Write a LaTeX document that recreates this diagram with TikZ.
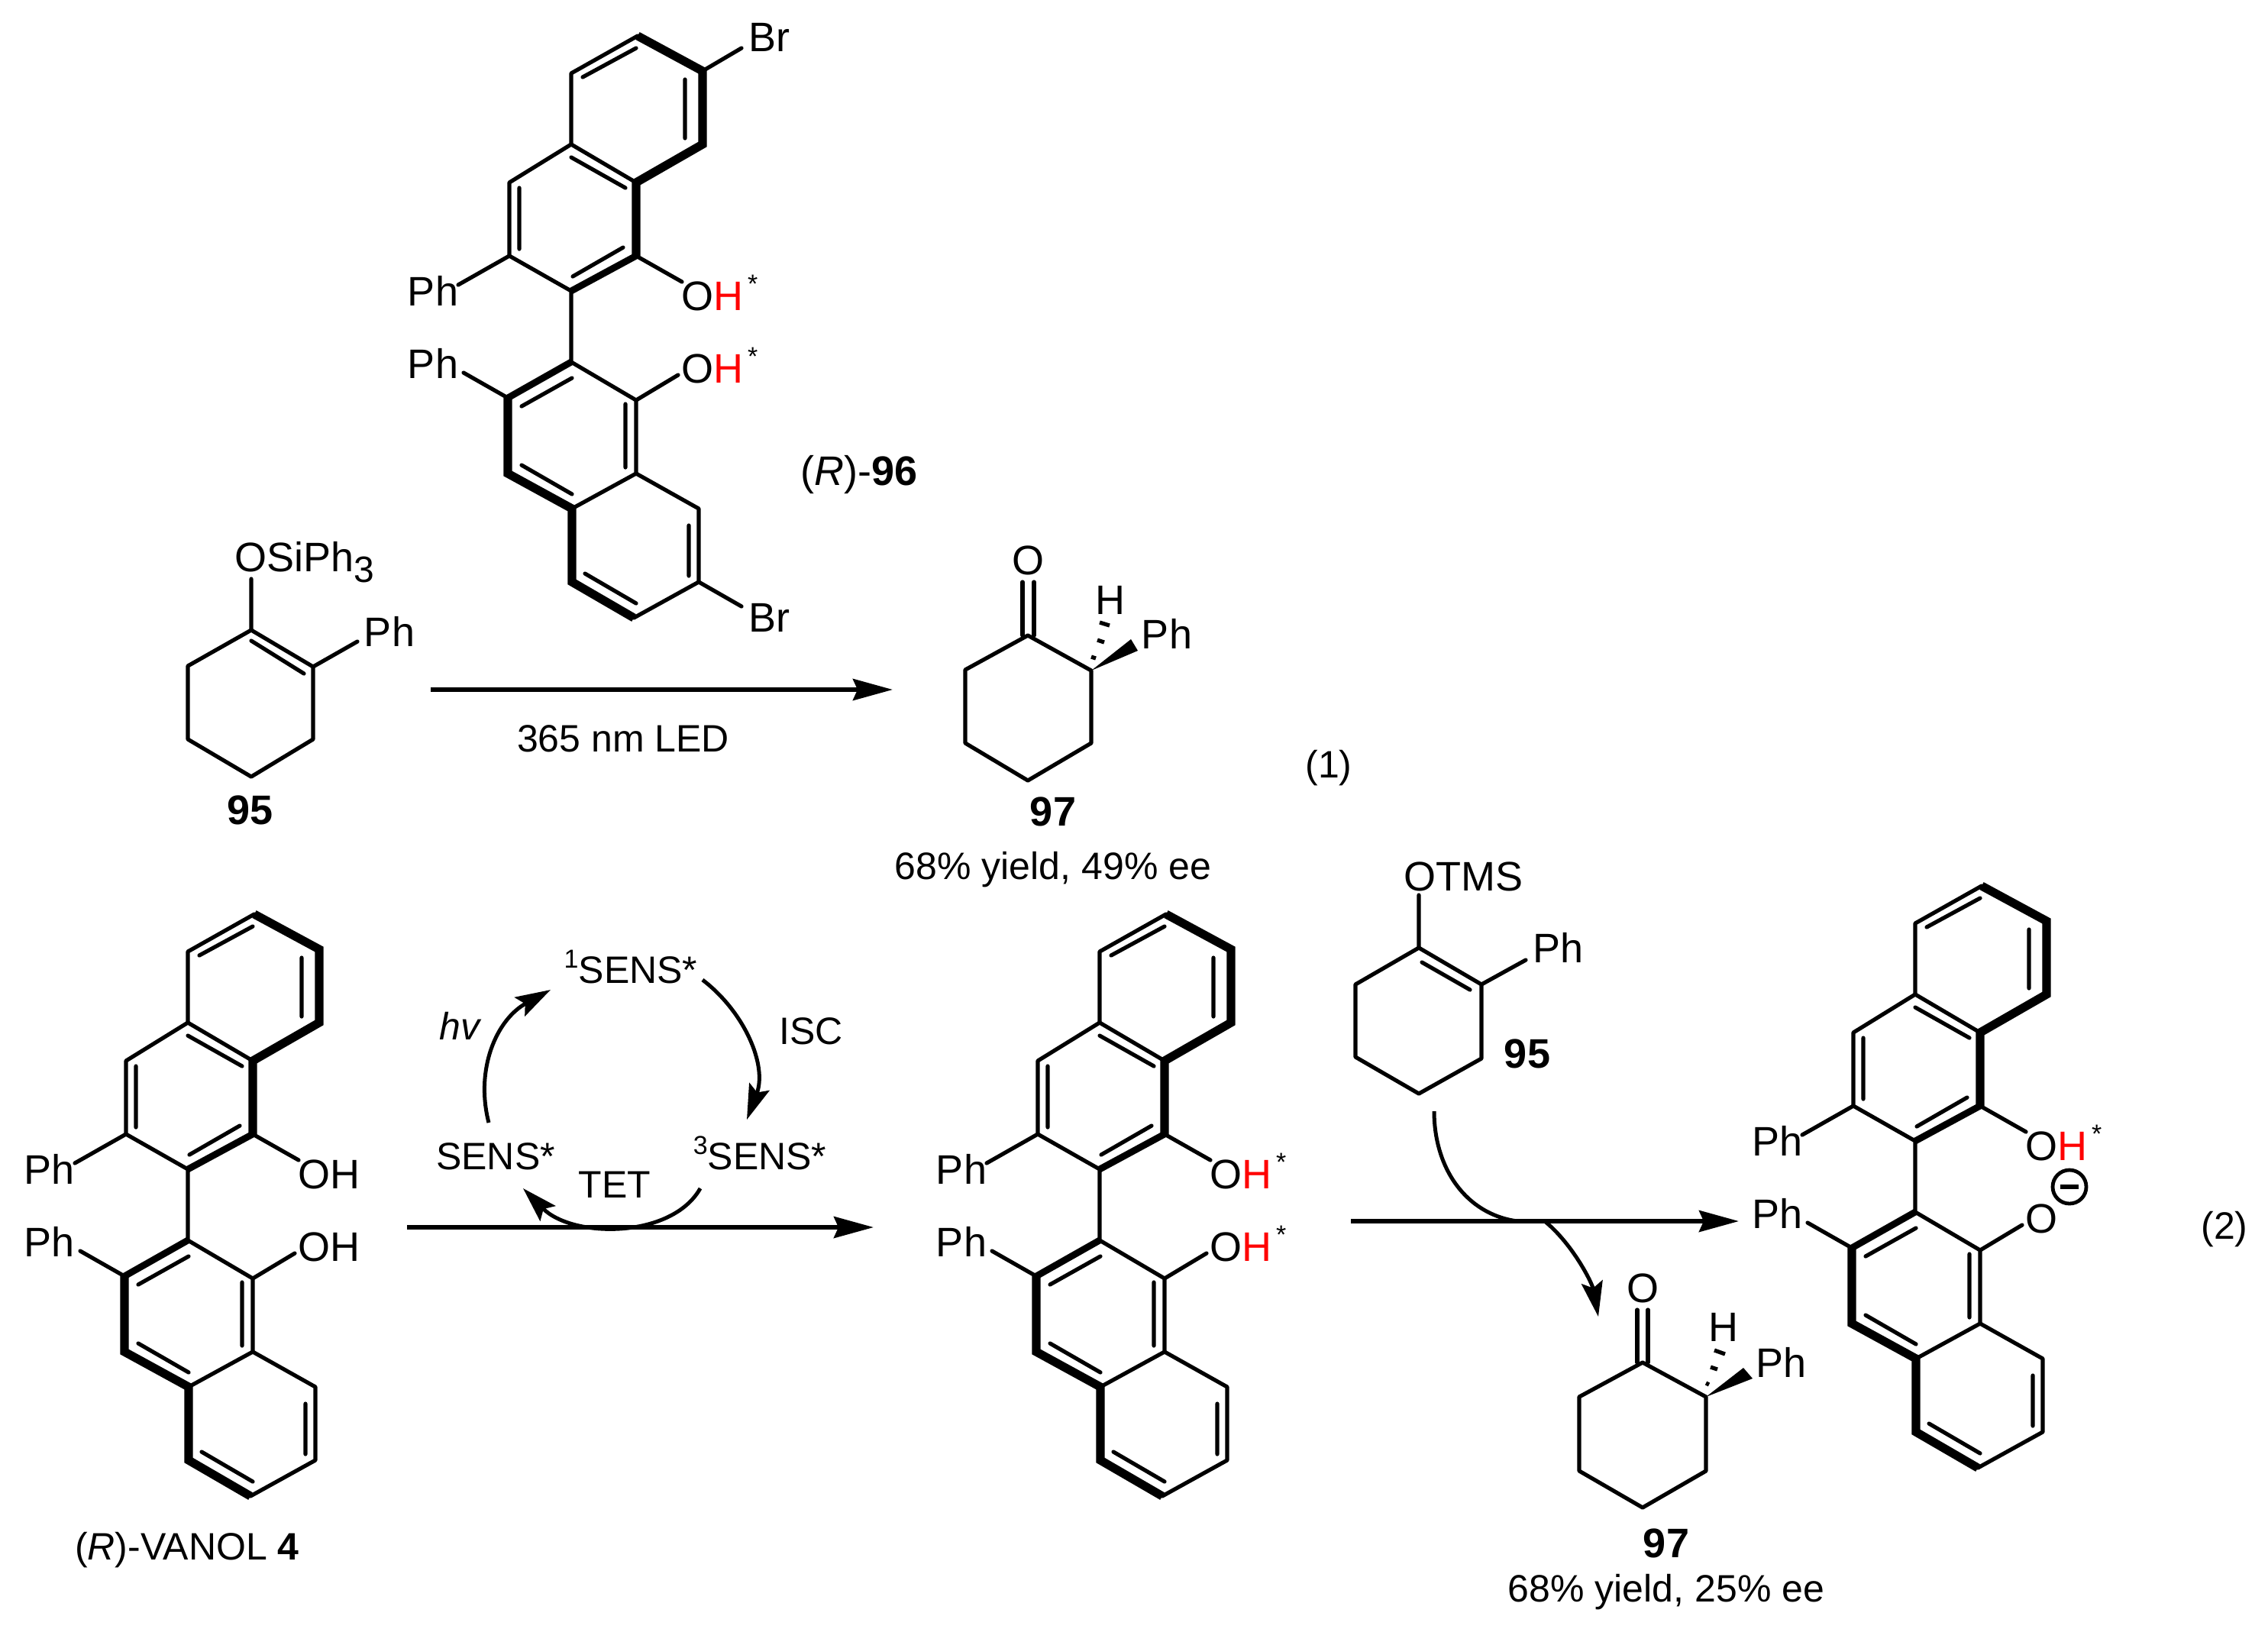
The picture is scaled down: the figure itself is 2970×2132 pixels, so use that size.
\documentclass[tikz,border=0pt]{standalone}
\usepackage{fontspec}
\setmainfont{Liberation Sans}
\usetikzlibrary{arrows.meta}
\definecolor{hred}{RGB}{255,0,0}
\newcommand{\FS}{\fontsize{27}{32}\selectfont}
\newcommand{\FL}{\fontsize{25}{30}\selectfont}
\newcommand{\OHs}{O\textcolor{hred}{H}\kern3pt\raisebox{11.5pt}{\fontsize{17}{17}\selectfont *}}
\newcommand{\sups}[1]{\raisebox{10pt}{\fontsize{17}{17}\selectfont #1}}
\tikzset{
  x=0.5pt,y=-0.5pt,
  bond/.style={line width=2.6pt,line cap=round,line join=round},
  bold bond/.style={line width=5.6pt,line cap=butt,line join=miter},
  mid bond/.style={line width=4.4pt,line cap=butt},
  txt/.style={inner sep=0pt,outer sep=0pt,font=\FS,text=black},
  basetxt/.style={txt,anchor=base},
  labtxt/.style={inner sep=0pt,outer sep=0pt,font=\FL,text=black,anchor=base},
  rxn/.style={line width=2.8pt,-{Stealth[length=26pt,width=14pt,inset=3pt]}},
  curve/.style={line width=2.5pt,-{Stealth[length=23pt,width=14pt,inset=4pt]}},
  plain curve/.style={line width=2.5pt},
}
\newcommand{\binaph}[5]{%
\begin{scope}[shift={(#2,#3)},name prefix=#1-]
  \coordinate (a1) at (835,47); \coordinate (a2) at (920,93); \coordinate (a3) at (920,189);
  \coordinate (a4) at (833,239); \coordinate (a5) at (748,189); \coordinate (a6) at (748,96);
  \coordinate (b1) at (833,335); \coordinate (b2) at (748,381); \coordinate (b3) at (667,335); \coordinate (b4) at (667,239);
  \coordinate (c1) at (748,474); \coordinate (c2) at (833,524); \coordinate (c3) at (833,620);
  \coordinate (c4) at (749,666); \coordinate (c5) at (665,620); \coordinate (c6) at (665,521);
  \coordinate (d1) at (915,666); \coordinate (d2) at (915,762); \coordinate (d3) at (830,809); \coordinate (d4) at (749,762);
  \coordinate (p1) at (600,373); \coordinate (p2) at (607,488); \coordinate (o1) at (893,369); \coordinate (o2) at (888,491);
  \draw[bond] (a1) -- (a6) -- (a5) -- (b4) -- (b3) -- (b2) -- (c1) -- (c2) -- (c3) -- (c4);
  \draw[bond] (a5) -- (a4);
  \draw[bond] (c3) -- (d1) -- (d2) -- (d3);
  \draw[bold bond] (a1) -- (a2) -- (a3) -- (a4) -- (b1);
  \draw[mid bond] (b1) -- (b2);
  \draw[mid bond] (c1) -- (c6);
  \draw[bold bond] (c6) -- (c5) -- (c4) -- (d4) -- (d3);
  \draw[bond] (833,63) -- (763,101) (897,104) -- (897,181) (748,206) -- (819,246)
              (680,246) -- (680,326) (750,362) -- (816,324)
              (683,532) -- (749,495) (819,529) -- (819,612) (683,609) -- (749,647)
              (902,688) -- (902,754) (766,751) -- (833,790);
  \draw[bond] (b3) -- (p1) (c6) -- (p2) (b1) -- (o1) (c2) -- (o2);
  \node[txt] (ph1) at (567,381) {Ph};
  \node[txt] (ph2) at (567,476) {Ph};
  \node[txt,anchor=base west] (oh1) at (892,406) {#4};
  \node[txt,anchor=base west] (oh2) at (892,501) {#5};
\end{scope}}
\begin{document}
\begin{tikzpicture}
\useasboundingbox (0,0) rectangle (2970,2132);
\fill[white] (0,0) rectangle (2970,2132);

% (R)-96
\binaph{r96}{0}{0}{\OHs}{\OHs}
\draw[bond] (r96-a2) -- (971,63) (r96-d2) -- (971,794);
\node[txt] (br1) at (1007,49) {Br};
\node[txt] (br2) at (1007,809) {Br};
\node[basetxt] (l96) at (1125,635) {(\textit{R})-\textbf{96}};

% 95 top
\coordinate (e1) at (329,825); \coordinate (e2) at (410,873); \coordinate (e3) at (410,968);
\coordinate (e4) at (329,1017); \coordinate (e5) at (246,968); \coordinate (e6) at (246,872);
\draw[bond] (e1) -- (e2) -- (e3) -- (e4) -- (e5) -- (e6) -- cycle;
\draw[bond] (329,839) -- (398,882) (e1) -- (329,758) (e2) -- (468,840);
\node[txt,anchor=base west] (osi) at (307,748) {OSiPh\raisebox{-7pt}{\fontsize{24}{24}\selectfont 3}};
\node[txt] (eph) at (510,827) {Ph};
\node[txt] (l95a) at (328,1061) {\textbf{95}};

% arrow 1
\coordinate (ar1a) at (564,903); \coordinate (ar1b) at (1169,903);
\draw[rxn] (ar1a) -- (ar1b);
\node[labtxt] (led) at (816,984) {365 nm LED};

% 97 top
\coordinate (f1) at (1346,832); \coordinate (f2) at (1429,878); \coordinate (f3) at (1429,973);
\coordinate (f4) at (1346,1022); \coordinate (f5) at (1264,973); \coordinate (f6) at (1264,877);
\draw[bond] (f1) -- (f2) -- (f3) -- (f4) -- (f5) -- (f6) -- cycle;
\draw[bond] (1339,762) -- (1339,832) (1354,762) -- (1354,832);
\node[txt] (fo) at (1346,734) {O};
\node[txt] (fh) at (1454,786) {H};
\node[txt] (fph) at (1528,830) {Ph};
\fill (f2) -- (1481,837) -- (1490,852) -- cycle;
\draw[line width=2.6pt] (1429,860) -- (1435,862) (1437,838) -- (1446,841) (1440,815) -- (1453,819);
\node[txt] (l97a) at (1379,1063) {\textbf{97}};
\node[labtxt] (y1) at (1379,1151) {68\% yield, 49\% ee};
\node[labtxt] (eq1) at (1740,1018) {(1)};

% VANOL
\binaph{van}{-502}{1150}{OH}{OH}
\node[labtxt] (lvan) at (245,2042) {(\textit{R})-VANOL \textbf{4}};

% cycle
\node[labtxt] (s1) at (826,1287) {\sups{1}SENS*};
\node[labtxt] (s3) at (995,1531) {\sups{3}SENS*};
\node[labtxt] (s0) at (649,1531) {SENS*};
\node[labtxt] (hv) at (603,1361) {\textit{hv}};
\node[labtxt] (isc) at (1062,1367) {ISC};
\node[labtxt] (tet) at (805,1568) {TET};
\coordinate (h1) at (640,1470); \coordinate (h2) at (721,1296);
\coordinate (i1) at (920,1283); \coordinate (i2) at (978,1466);
\coordinate (t1) at (917,1556); \coordinate (t2) at (685,1556);
\draw[curve] (h1) .. controls (622,1400) and (650,1335) .. (h2);
\draw[curve] (i1) .. controls (975,1325) and (1005,1395) .. (i2);
\draw[curve] (t1) .. controls (880,1622) and (750,1622) .. (t2);

% arrow 2
\coordinate (ar2a) at (533,1607); \coordinate (ar2b) at (1144,1607);
\draw[rxn] (ar2a) -- (ar2b);

% middle
\binaph{mid}{692}{1150}{\OHs}{\OHs}

% 95 lower
\coordinate (g1) at (1858,1241); \coordinate (g2) at (1940,1289); \coordinate (g3) at (1940,1386);
\coordinate (g4) at (1858,1432); \coordinate (g5) at (1775,1384); \coordinate (g6) at (1775,1289);
\draw[bond] (g1) -- (g2) -- (g3) -- (g4) -- (g5) -- (g6) -- cycle;
\draw[bond] (1862,1260) -- (1925,1296) (g1) -- (1858,1172) (g2) -- (1998,1257);
\node[txt,anchor=base west] (otms) at (1838,1166) {OTMS};
\node[txt] (gph) at (2040,1241) {Ph};
\node[txt] (l95b) at (2000,1380) {\textbf{95}};

% arrow 3
\coordinate (ar3a) at (1769,1599); \coordinate (ar3b) at (2277,1599);
\draw[rxn] (ar3a) -- (ar3b);
\coordinate (k1) at (1878,1455); \coordinate (k2) at (1987,1599);
\coordinate (k3) at (2024,1600); \coordinate (k4) at (2093,1724);
\draw[plain curve] (k1) .. controls (1878,1530) and (1920,1590) .. (k2);
\draw[curve] (k3) .. controls (2060,1630) and (2085,1680) .. (k4);

% 97 lower
\coordinate (m1) at (2151,1784); \coordinate (m2) at (2234,1829); \coordinate (m3) at (2234,1926);
\coordinate (m4) at (2151,1974); \coordinate (m5) at (2068,1926); \coordinate (m6) at (2068,1829);
\draw[bond] (m1) -- (m2) -- (m3) -- (m4) -- (m5) -- (m6) -- cycle;
\draw[bond] (2144,1715) -- (2144,1784) (2158,1715) -- (2158,1784);
\node[txt] (mo) at (2151,1687) {O};
\node[txt] (mh) at (2257,1738) {H};
\node[txt] (mph) at (2332,1784) {Ph};
\fill (m2) -- (2295,1805) -- (2283,1791) -- cycle;
\draw[line width=2.6pt] (2234,1811) -- (2238,1813) (2240,1790) -- (2249,1793) (2245,1768) -- (2259,1773);
\node[txt] (l97b) at (2182,2021) {\textbf{97}};
\node[labtxt] (y2) at (2182,2097) {68\% yield, 25\% ee};

% right
\binaph{rgt}{1760}{1113}{\OHs}{O}
\node[circle,draw,line width=2.4pt,minimum size=22pt,inner sep=0pt] (minus) at (2710,1554) {};
\draw[line width=2.8pt] (2698,1554) -- (2722,1554);
\node[labtxt] (eq2) at (2913,1622) {(2)};
\end{tikzpicture}
\end{document}
